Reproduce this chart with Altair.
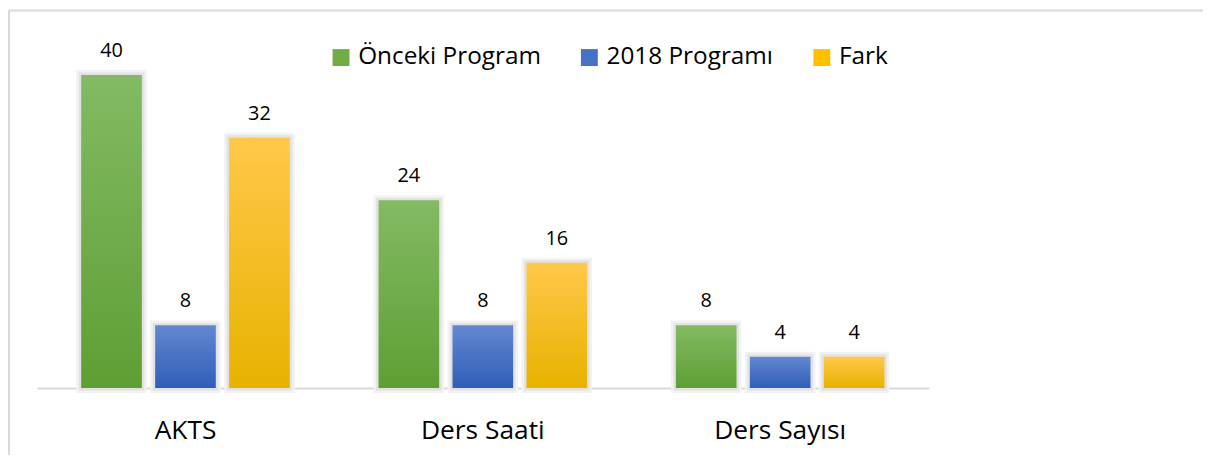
import altair as alt
import pandas as pd

categories = ["AKTS", "Ders Saati", "Ders Sayısı"]
series = ["Önceki Program", "2018 Programı", "Fark"]
onceki = [40, 24, 8]
prog2018 = [8, 8, 4]
fark = [32, 16, 4]

solid = ["#70AD47", "#4472C4", "#FFC000"]
grad_top = ["#83BA63", "#6487D1", "#FFC84A"]
grad_bot = ["#5E9F34", "#2F5EB8", "#E8B200"]

rows = []
for s, vals in zip(series, [onceki, prog2018, fark]):
    for c, v in zip(categories, vals):
        rows.append({"category": c, "series": s, "value": v})
df = pd.DataFrame(rows)

FONT = "Open Sans"

x_enc = alt.X("category:N", sort=categories,
              scale=alt.Scale(domain=categories, paddingInner=0, paddingOuter=0),
              axis=alt.Axis(title=None, labelFontSize=26.5, labelFont=FONT, labelColor="#000000",
                            ticks=False, domainColor="#D9D9D9", domainWidth=2,
                            labelPadding=30, labelAngle=0))
xo_enc = alt.XOffset("series:N", sort=series,
                     scale=alt.Scale(domain=series, paddingInner=0.18, paddingOuter=0.6))
y_enc = alt.Y("value:Q", scale=alt.Scale(domain=[0, 40], nice=False), axis=None)

base = alt.Chart(df).encode(x=x_enc, xOffset=xo_enc, y=y_enc)

shadow_outer = base.mark_bar(color="#F2F2F2", stroke="#F2F2F2", strokeWidth=10)
shadow_inner = base.mark_bar(color="#DDDDDD", stroke="#E2E2E2", strokeWidth=5)

bar_layers = []
for s, t, b in zip(series, grad_top, grad_bot):
    g = alt.Gradient(gradient="linear", x1=0, x2=0, y1=0, y2=1,
                     stops=[alt.GradientStop(color=t, offset=0),
                            alt.GradientStop(color=b, offset=1)])
    bar_layers.append(base.transform_filter(alt.datum.series == s).mark_bar(color=g))

labels = base.mark_text(dy=-24, baseline="middle", fontSize=20, font=FONT, color="#000000").encode(
    text="value:Q")

legend_layer = base.mark_square(opacity=0).encode(
    color=alt.Color("series:N", sort=series,
                    scale=alt.Scale(domain=series, range=solid),
                    legend=alt.Legend(title=None, orient="none", legendX=294, legendY=-30,
                                      direction="horizontal", symbolType="square",
                                      symbolSize=289, symbolOpacity=1, symbolStrokeWidth=0,
                                      labelFontSize=24.5, labelFont=FONT, labelColor="#000000",
                                      labelOffset=5, columnPadding=36, padding=0,
                                      labelLimit=400)))

one = alt.Chart(pd.DataFrame({"k": [0]}))
border_top = one.mark_rule(color="#D9D9D9", strokeWidth=2).encode(
    x=alt.value(-28), x2=alt.value(1180), y=alt.value(-65))
border_left = one.mark_rule(color="#D9D9D9", strokeWidth=2).encode(
    x=alt.value(-28), y=alt.value(-65), y2=alt.value(390))

chart = alt.layer(border_top, border_left, shadow_outer, shadow_inner, *bar_layers, labels,
                  legend_layer).properties(
    width=898, height=315,
    autosize=alt.AutoSizeParams(type="none"),
    padding={"left": 29, "top": 66, "right": 276, "bottom": 66},
).configure(font=FONT).configure_view(stroke=None, strokeWidth=0)

chart.save("out.html", embed_options={"renderer": "svg", "actions": False})
